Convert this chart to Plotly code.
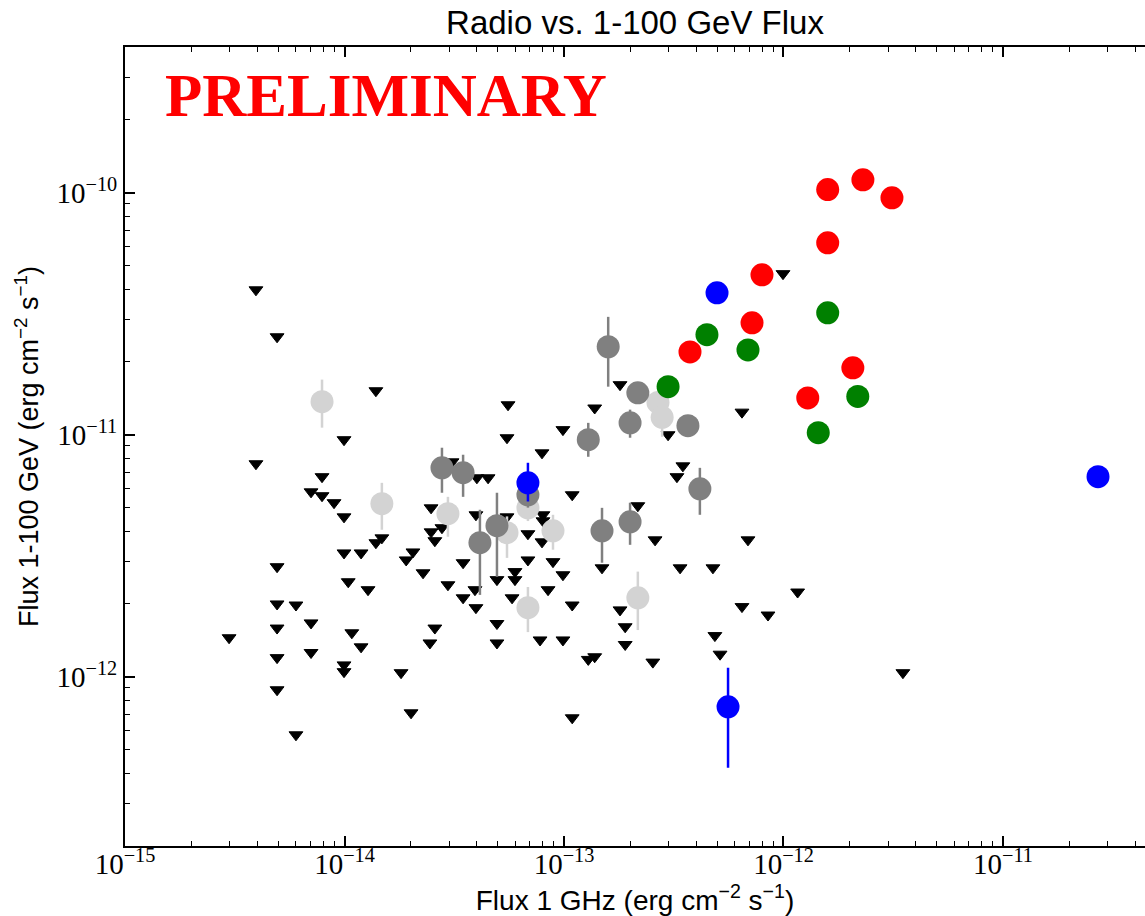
import plotly.graph_objects as go

# ---------------- data ----------------
# upper limits (black down-triangles)
tri_x = [3.95e-15, 4.93e-15, 1.39e-14, 9.95e-15, 3.95e-15, 7.90e-15, 7.04e-15, 7.90e-15, 8.96e-15, 9.95e-15,
         3.09e-14, 2.48e-14, 2.48e-14, 2.78e-14, 2.58e-14, 1.48e-14, 1.39e-14, 9.95e-15, 1.19e-14, 2.05e-14,
         1.91e-14, 3.47e-14, 4.93e-15, 1.04e-14, 1.28e-14, 2.28e-14, 2.96e-14, 3.47e-14, 4.93e-15, 6.01e-15,
         7.04e-15, 4.93e-15, 1.08e-14, 1.19e-14, 2.58e-14, 2.45e-14, 2.98e-15, 7.04e-15, 4.93e-15, 9.95e-15,
         9.95e-15, 1.81e-14, 4.93e-15, 2.01e-14, 6.01e-15, 1.80e-13, 1.38e-13, 5.56e-14, 5.50e-14, 9.89e-14,
         7.94e-14, 2.98e-13, 3.48e-13, 3.27e-13, 6.47e-13, 1.09e-13, 4.01e-14, 4.51e-14, 3.97e-14, 5.50e-14,
         8.02e-14, 8.02e-14, 2.17e-13, 6.85e-14, 7.94e-14, 2.60e-13, 6.89e-13, 6.85e-14, 8.91e-14, 9.89e-14,
         1.49e-13, 3.38e-13, 4.77e-13, 4.95e-14, 5.98e-14, 5.98e-14, 3.93e-14, 3.97e-14, 5.80e-14, 8.46e-14,
         1.09e-13, 1.80e-13, 6.47e-13, 8.50e-13, 1.16e-12, 4.95e-14, 4.95e-14, 7.78e-14, 9.89e-14, 1.90e-13,
         1.90e-13, 4.87e-13, 5.14e-13, 1.29e-13, 1.38e-13, 2.54e-13, 1.09e-13, 9.95e-13, 3.50e-12]
tri_y = [3.97e-11, 2.54e-11, 1.52e-11, 9.54e-12, 7.59e-12, 6.71e-12, 5.81e-12, 5.60e-12, 5.24e-12, 4.58e-12,
         7.73e-12, 4.99e-12, 3.97e-12, 4.13e-12, 3.65e-12, 3.75e-12, 3.58e-12, 3.25e-12, 3.25e-12, 3.28e-12,
         3.04e-12, 2.96e-12, 2.85e-12, 2.47e-12, 2.29e-12, 2.69e-12, 2.40e-12, 2.12e-12, 2.00e-12, 1.98e-12,
         1.67e-12, 1.59e-12, 1.52e-12, 1.33e-12, 1.59e-12, 1.38e-12, 1.45e-12, 1.26e-12, 1.20e-12, 1.12e-12,
         1.05e-12, 1.04e-12, 8.84e-13, 7.10e-13, 5.76e-13, 1.61e-11, 1.29e-11, 1.33e-11, 9.72e-12, 1.05e-11,
         8.42e-12, 1.00e-11, 7.44e-12, 6.71e-12, 1.24e-11, 5.65e-12, 6.64e-12, 6.64e-12, 4.67e-12, 4.58e-12,
         4.67e-12, 4.41e-12, 5.09e-12, 3.90e-12, 3.61e-12, 3.68e-12, 3.68e-12, 3.04e-12, 2.99e-12, 2.64e-12,
         2.82e-12, 2.82e-12, 2.82e-12, 2.52e-12, 2.72e-12, 2.52e-12, 2.29e-12, 1.93e-12, 2.12e-12, 2.29e-12,
         1.98e-12, 1.89e-12, 1.95e-12, 1.80e-12, 2.24e-12, 1.66e-12, 1.38e-12, 1.42e-12, 1.42e-12, 1.61e-12,
         1.36e-12, 1.48e-12, 1.24e-12, 1.18e-12, 1.21e-12, 1.15e-12, 6.77e-13, 4.63e-11, 1.04e-12]

# light gray detections
lg_x = [7.90e-15, 1.48e-14, 2.96e-14, 6.85e-14, 5.50e-14, 8.91e-14, 6.85e-14, 2.17e-13, 2.68e-13, 2.80e-13]
lg_y = [1.37e-11, 5.19e-12, 4.72e-12, 4.99e-12, 3.94e-12, 4.01e-12, 1.93e-12, 2.12e-12, 1.36e-11, 1.18e-11]
lg_hi = [1.69e-11, 6.33e-12, 5.54e-12, 5.60e-12, 4.60e-12, 4.67e-12, 2.35e-12, 2.72e-12, 1.36e-11, 1.36e-11]
lg_lo = [1.07e-11, 4.05e-12, 3.79e-12, 4.40e-12, 3.10e-12, 3.35e-12, 1.53e-12, 1.56e-12, 1.36e-11, 9.81e-12]

# dark gray detections
dg_x = [2.78e-14, 3.47e-14, 6.85e-14, 4.95e-14, 4.14e-14, 1.29e-13, 1.49e-13, 2.00e-13, 1.59e-13, 2.17e-13,
        2.00e-13, 3.67e-13, 4.16e-13]
dg_y = [7.30e-12, 6.97e-12, 5.65e-12, 4.21e-12, 3.58e-12, 9.54e-12, 4.01e-12, 4.37e-12, 2.31e-11, 1.49e-11,
        1.12e-11, 1.09e-11, 5.98e-12]
dg_hi = [8.84e-12, 8.27e-12, 6.40e-12, 5.76e-12, 4.90e-12, 1.12e-11, 4.99e-12, 5.24e-12, 3.07e-11, 1.49e-11,
         1.27e-11, 1.09e-11, 7.30e-12]
dg_lo = [5.76e-12, 5.54e-12, 5.00e-12, 2.59e-12, 2.18e-12, 8.11e-12, 2.96e-12, 3.51e-12, 1.58e-11, 1.49e-11,
         9.72e-12, 1.09e-11, 4.67e-12]

# red detections
r_x = [1.59e-12, 2.30e-12, 3.12e-12, 1.59e-12, 7.98e-13, 7.19e-13, 3.75e-13, 2.07e-12, 1.29e-12]
r_y = [1.03e-10, 1.13e-10, 9.53e-11, 6.21e-11, 4.58e-11, 2.90e-11, 2.20e-11, 1.89e-11, 1.42e-11]

# green detections
g_x = [1.59e-12, 4.48e-13, 6.89e-13, 2.98e-13, 2.18e-12, 1.44e-12]
g_y = [3.19e-11, 2.59e-11, 2.24e-11, 1.58e-11, 1.44e-11, 1.02e-11]

# blue detections
b_x = [4.98e-13, 6.85e-14, 5.59e-13, 2.71e-11]
b_y = [3.86e-11, 6.33e-12, 7.52e-13, 6.71e-12]
b_hi = [3.86e-11, 7.66e-12, 1.09e-12, 6.71e-12]
b_lo = [3.86e-11, 5.30e-12, 4.21e-13, 6.71e-12]

x_decades = [1e-15, 1e-14, 1e-13, 1e-12, 1e-11]
x_tick_text = ["10<sup>\u221215</sup>", "10<sup>\u221214</sup>", "10<sup>\u221213</sup>",
               "10<sup>\u221212</sup>", "10<sup>\u221211</sup>"]
y_decades = [1e-12, 1e-11, 1e-10]
y_tick_text = ["10<sup>\u221212</sup>", "10<sup>\u221211</sup>", "10<sup>\u221210</sup>"]


def minor_vals(lo_exp, hi_exp):
    return [m * 10.0 ** e for e in range(lo_exp, hi_exp) for m in range(2, 10)]


def err(y, hi, lo):
    return dict(type="data", symmetric=False,
                array=[h - v for v, h in zip(y, hi)],
                arrayminus=[v - l for v, l in zip(y, lo)])


fig = go.Figure()

fig.add_trace(go.Scatter(x=tri_x, y=tri_y, mode="markers",
                         marker=dict(symbol="triangle-down", size=12, color="black",
                                     line=dict(width=1, color="black"))))

fig.add_trace(go.Scatter(x=lg_x, y=lg_y, mode="markers",
                         marker=dict(size=23, color="#d3d3d3", line=dict(width=0)),
                         error_y=dict(err(lg_y, lg_hi, lg_lo), color="#d3d3d3", thickness=2.5, width=0)))

fig.add_trace(go.Scatter(x=dg_x, y=dg_y, mode="markers",
                         marker=dict(size=23, color="#808080", line=dict(width=0)),
                         error_y=dict(err(dg_y, dg_hi, dg_lo), color="#808080", thickness=2.5, width=0)))

fig.add_trace(go.Scatter(x=r_x, y=r_y, mode="markers",
                         marker=dict(size=23, color="#ff0000", line=dict(width=0))))

fig.add_trace(go.Scatter(x=g_x, y=g_y, mode="markers",
                         marker=dict(size=23, color="#008000", line=dict(width=0))))

fig.add_trace(go.Scatter(x=b_x, y=b_y, mode="markers",
                         marker=dict(size=23, color="#0000ff", line=dict(width=0)),
                         error_y=dict(err(b_y, b_hi, b_lo), color="#0000ff", thickness=2.5, width=0)))

axis_common = dict(
    type="log", showgrid=False, zeroline=False,
    showline=True, linecolor="black", linewidth=2,
    ticks="inside", ticklen=10, tickwidth=1.5, tickcolor="black",
    tickmode="array",
    tickfont=dict(family="Liberation Serif", size=29, color="black"),
)

fig.update_layout(
    width=1145, height=916,
    margin=dict(l=125, r=0, t=47, b=70, autoexpand=False),
    paper_bgcolor="white", plot_bgcolor="white",
    showlegend=False,
    title=dict(text="Radio vs. 1-100 GeV Flux", x=0.5, xref="paper", xanchor="center",
               y=1 - 22 / 916, yref="container", yanchor="middle",
               font=dict(family="Liberation Sans", size=33, color="black")),
    xaxis=dict(axis_common,
               range=[-15, -10.353],
               tickvals=x_decades, ticktext=x_tick_text,
               ticklabelstandoff=-9,
               mirror="ticks",
               minor=dict(tickmode="array", tickvals=minor_vals(-15, -10), ticks="inside",
                          ticklen=5, tickwidth=1.2, tickcolor="black", showgrid=False),
               title=dict(text="Flux 1 GHz (erg cm<sup>\u22122</sup> s<sup>\u22121</sup>)",
                          font=dict(family="Liberation Sans", size=28, color="black"),
                          standoff=6)),
    yaxis=dict(axis_common,
               range=[-12.699, -9.398],
               tickvals=y_decades, ticktext=y_tick_text,
               mirror=False,
               minor=dict(tickmode="array", tickvals=minor_vals(-13, -9), ticks="inside",
                          ticklen=5, tickwidth=1.2, tickcolor="black", showgrid=False),
               title=dict(text="Flux 1-100 GeV (erg cm<sup>\u22122</sup> s<sup>\u22121</sup>)",
                          font=dict(family="Liberation Sans", size=27, color="black"),
                          standoff=10)),
    annotations=[dict(text="<b>PRELIMINARY</b>", xref="paper", yref="paper",
                      x=0.037, y=0.9387, xanchor="left", yanchor="middle", showarrow=False,
                      font=dict(family="Liberation Serif", size=61, color="#ff0000"))],
)

fig.write_html("out.html")
